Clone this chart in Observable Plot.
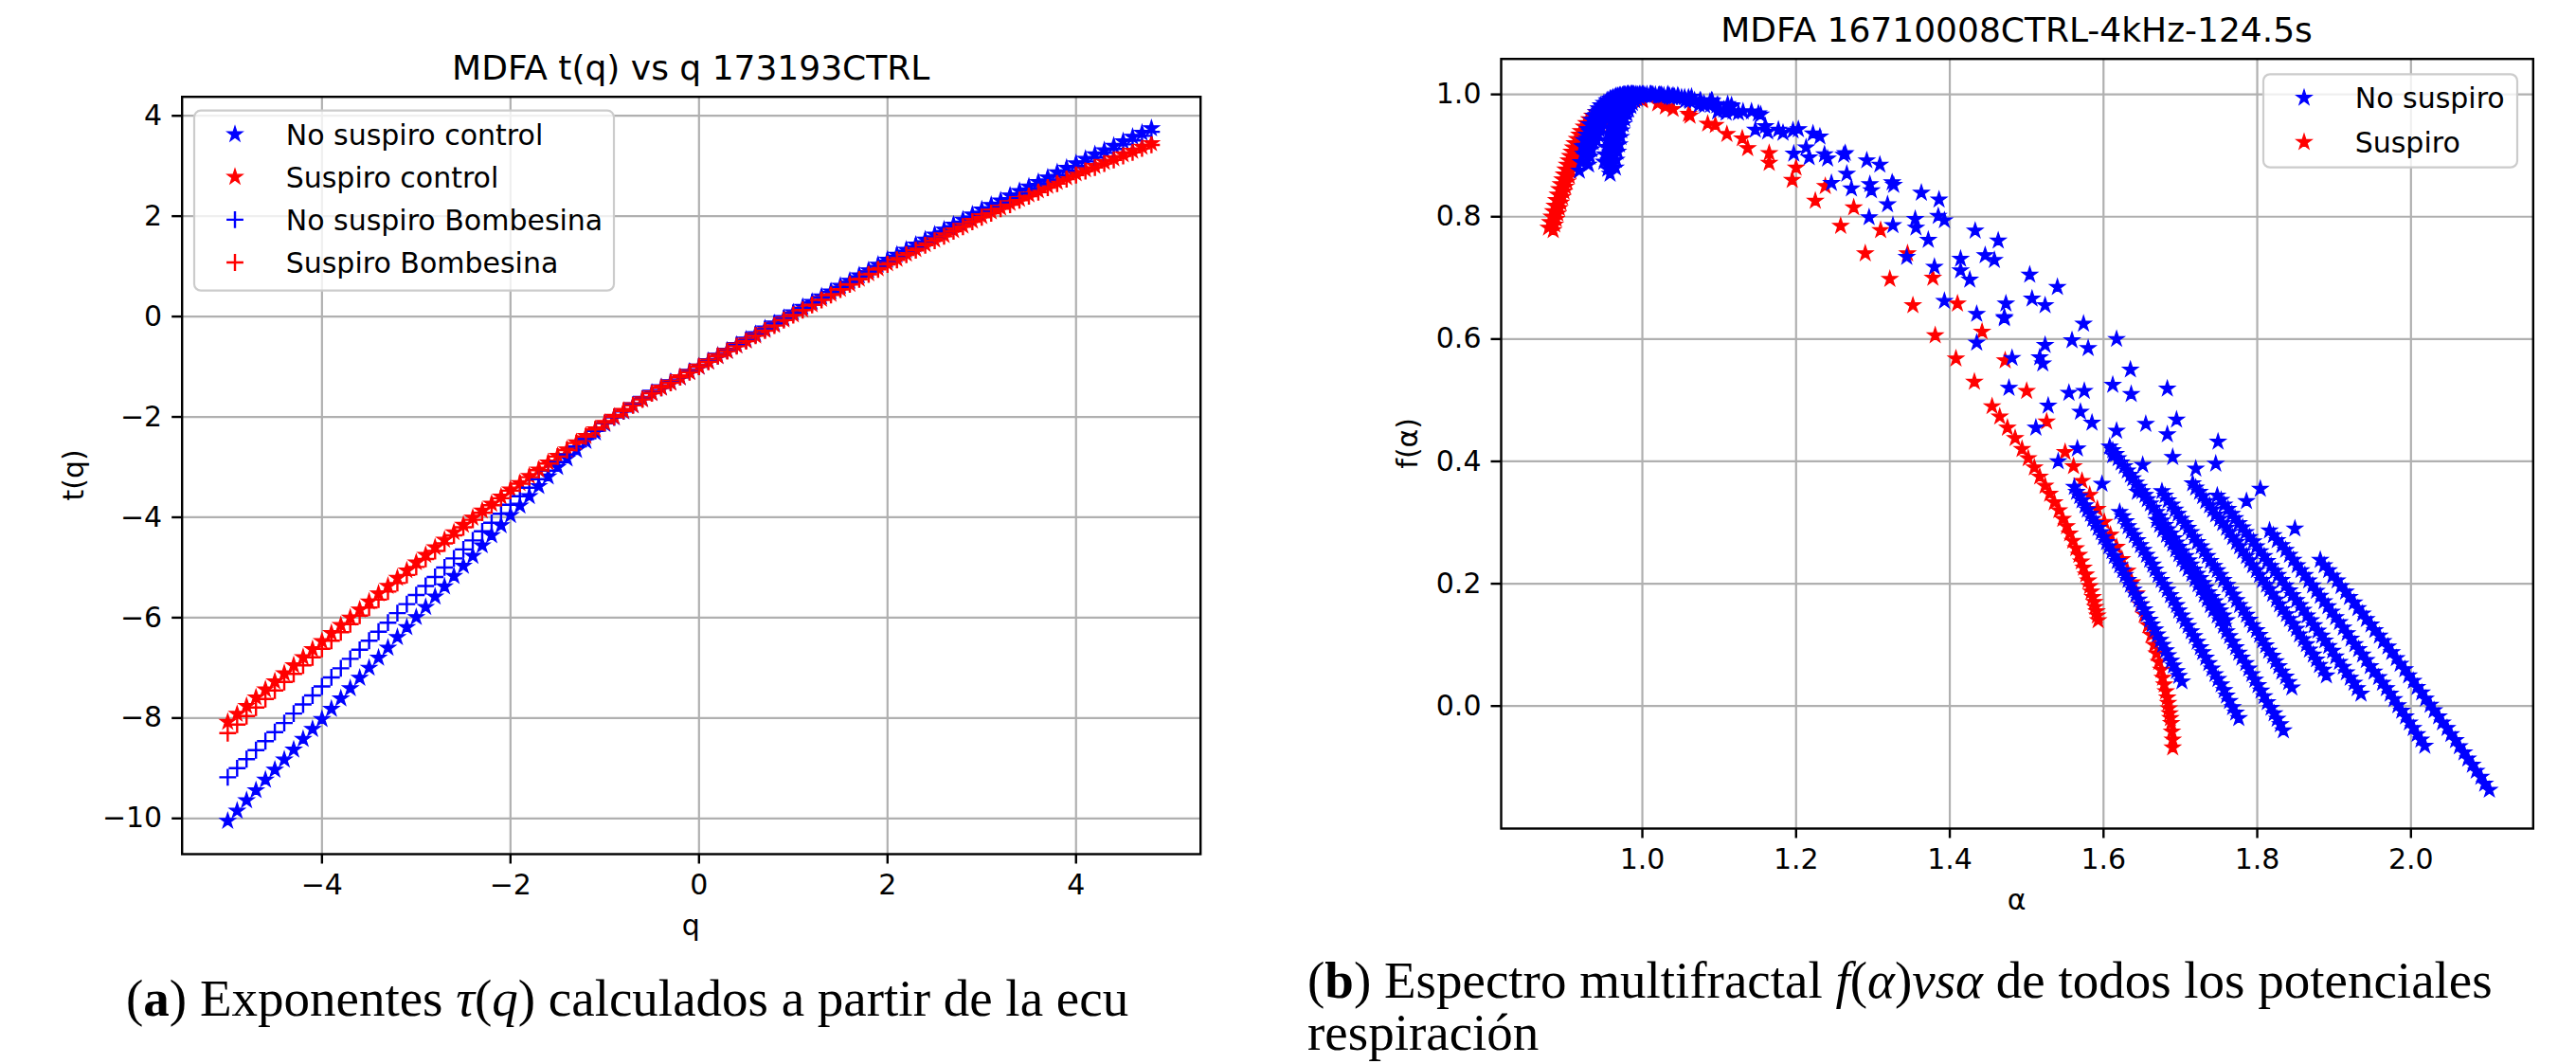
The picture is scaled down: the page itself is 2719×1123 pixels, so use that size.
<!DOCTYPE html>
<html><head><meta charset="utf-8">
<script src="https://cdn.jsdelivr.net/npm/d3@7"></script>
<script src="https://cdn.jsdelivr.net/npm/@observablehq/plot@0.6"></script>
<style>
html,body{margin:0;padding:0;background:#fff;}
#page{position:relative;width:2719px;height:1123px;overflow:hidden;background:#fff;}
#left{position:absolute;left:0;top:0;}
#right{position:absolute;left:1380px;top:0;}
#overlay{position:absolute;left:0;top:0;pointer-events:none;}
</style></head>
<body><div id="page"><div id="left"></div><div id="right"></div><svg id="overlay" width="2719" height="1123"></svg></div>
<script>
// ---------- Panel (a): t(q) vs q ----------
const qValues = [
-5.0,-4.9,-4.8,-4.7,-4.6,-4.5,-4.4,-4.3,-4.2,-4.1,
-4.0,-3.9,-3.8,-3.7,-3.6,-3.5,-3.4,-3.3,-3.2,-3.1,
-3.0,-2.9,-2.8,-2.7,-2.6,-2.5,-2.4,-2.3,-2.2,-2.1,
-2.0,-1.9,-1.8,-1.7,-1.6,-1.5,-1.4,-1.3,-1.2,-1.1,
-1.0,-0.9,-0.8,-0.7,-0.6,-0.5,-0.4,-0.3,-0.2,-0.1,
0.0,0.1,0.2,0.3,0.4,0.5,0.6,0.7,0.8,0.9,
1.0,1.1,1.2,1.3,1.4,1.5,1.6,1.7,1.8,1.9,
2.0,2.1,2.2,2.3,2.4,2.5,2.6,2.7,2.8,2.9,
3.0,3.1,3.2,3.3,3.4,3.5,3.6,3.7,3.8,3.9,
4.0,4.1,4.2,4.3,4.4,4.5,4.6,4.7,4.8];
const tauNoSuspiroControl = [
-10.05,-9.85,-9.64,-9.44,-9.23,-9.03,-8.83,-8.63,-8.42,-8.22,
-8.02,-7.82,-7.61,-7.41,-7.20,-7.00,-6.80,-6.60,-6.39,-6.19,
-5.99,-5.79,-5.58,-5.38,-5.17,-4.97,-4.77,-4.56,-4.36,-4.16,
-3.96,-3.77,-3.58,-3.38,-3.19,-3.00,-2.83,-2.66,-2.48,-2.31,
-2.14,-2.01,-1.89,-1.77,-1.64,-1.52,-1.41,-1.31,-1.21,-1.10,
-1.00,-0.89,-0.78,-0.68,-0.57,-0.46,-0.35,-0.24,-0.14,-0.03,
0.08,0.19,0.29,0.40,0.50,0.61,0.71,0.82,0.92,1.03,
1.13,1.23,1.33,1.43,1.53,1.63,1.73,1.83,1.93,2.03,
2.13,2.22,2.31,2.41,2.50,2.59,2.68,2.77,2.87,2.96,
3.05,3.14,3.23,3.31,3.40,3.49,3.58,3.66,3.75];
const tauSuspiroControl = [
-8.08,-7.92,-7.76,-7.59,-7.43,-7.27,-7.11,-6.95,-6.79,-6.63,
-6.47,-6.31,-6.15,-6.00,-5.84,-5.68,-5.52,-5.37,-5.21,-5.06,
-4.90,-4.75,-4.60,-4.45,-4.30,-4.15,-4.01,-3.87,-3.73,-3.59,
-3.45,-3.32,-3.18,-3.05,-2.91,-2.78,-2.65,-2.51,-2.38,-2.25,
-2.12,-2.00,-1.88,-1.77,-1.65,-1.53,-1.42,-1.32,-1.21,-1.11,
-1.00,-0.90,-0.79,-0.69,-0.58,-0.48,-0.38,-0.27,-0.17,-0.06,
0.04,0.14,0.24,0.35,0.45,0.55,0.65,0.75,0.86,0.96,
1.06,1.15,1.25,1.34,1.44,1.53,1.62,1.72,1.81,1.91,
2.00,2.09,2.17,2.26,2.34,2.43,2.51,2.60,2.68,2.77,
2.85,2.93,3.00,3.08,3.15,3.23,3.30,3.38,3.45];
const tauNoSuspiroBombesina = [
-9.18,-9.00,-8.82,-8.64,-8.46,-8.28,-8.10,-7.91,-7.73,-7.55,
-7.37,-7.19,-7.01,-6.82,-6.64,-6.46,-6.28,-6.10,-5.91,-5.73,
-5.55,-5.37,-5.19,-5.00,-4.82,-4.64,-4.46,-4.28,-4.11,-3.93,
-3.75,-3.58,-3.41,-3.24,-3.07,-2.90,-2.75,-2.59,-2.44,-2.28,
-2.13,-2.01,-1.89,-1.76,-1.64,-1.52,-1.42,-1.31,-1.21,-1.10,
-1.00,-0.89,-0.79,-0.68,-0.57,-0.47,-0.36,-0.25,-0.14,-0.04,
0.07,0.17,0.28,0.38,0.49,0.59,0.69,0.80,0.90,1.01,
1.11,1.21,1.31,1.40,1.50,1.60,1.70,1.80,1.89,1.99,
2.09,2.18,2.27,2.36,2.45,2.55,2.64,2.73,2.82,2.91,
3.00,3.09,3.17,3.26,3.34,3.43,3.51,3.60,3.68];
const tauSuspiroBombesina = [
-8.30,-8.13,-7.96,-7.79,-7.62,-7.45,-7.28,-7.12,-6.95,-6.79,
-6.62,-6.46,-6.29,-6.13,-5.96,-5.80,-5.64,-5.48,-5.31,-5.15,
-4.99,-4.83,-4.67,-4.52,-4.36,-4.20,-4.05,-3.91,-3.76,-3.62,
-3.47,-3.33,-3.20,-3.06,-2.93,-2.79,-2.66,-2.52,-2.39,-2.25,
-2.12,-2.00,-1.88,-1.77,-1.65,-1.53,-1.42,-1.32,-1.21,-1.11,
-1.00,-0.90,-0.79,-0.69,-0.59,-0.49,-0.38,-0.28,-0.18,-0.07,
0.03,0.13,0.23,0.33,0.43,0.54,0.64,0.74,0.84,0.94,
1.04,1.13,1.23,1.32,1.42,1.51,1.60,1.70,1.79,1.89,
1.98,2.06,2.15,2.23,2.32,2.40,2.48,2.57,2.65,2.74,
2.82,2.90,2.97,3.05,3.12,3.20,3.27,3.35,3.42];
const qTicks = [-4,-2,0,2,4];
const tauTicks = [-10,-8,-6,-4,-2,0,2,4];
const leftLegendLabels = ["No suspiro control","Suspiro control","No suspiro Bombesina","Suspiro Bombesina"];

// ---------- Panel (b): f(alpha) vs alpha, one alpha/f array pair per spectrum ----------
const noSuspiro1Alpha = [.930,.932,.934,.936,.938,.940,.943,.946,.949,.952,.955,.958,.962,.966,.970,.974,.978,.982,.987, 1.011,1.035,1.074,
1.021,1.056,1.098,1.147,1.197,1.246,1.295,1.344,1.393,1.435,1.477,1.512,1.541,
1.562,1.565,1.569,1.572,1.576,1.579,1.583,1.586,1.590,1.593,1.597,1.600,1.604,1.607,1.611,1.614,1.618,1.621,1.625,1.628,1.632,1.635,1.639,1.642,1.646,1.649,1.653,1.656,1.660,1.663,1.667,1.670,1.674,1.677,1.681,1.684,1.688,1.691,1.695,1.698,1.702];
const noSuspiro1F = [.885,.898,.910,.922,.933,.943,.953,.961,.969,.976,.982,.987,.991,.994,.996,.998,.999,1.0,1.0, 1.0,.996,.983,
.998,.990,.972,.942,.903,.855,.799,.734,.662,.594,.520,.455,.400,
.358,.350,.343,.336,.328,.321,.314,.306,.299,.291,.284,.276,.268,.261,.253,.245,.237,.230,.222,.214,.206,.198,.190,.182,.174,.166,.158,.150,.141,.133,.125,.117,.108,.100,.091,.083,.074,.066,.057,.049,.040];
const noSuspiro2Alpha = [.918,.920,.923,.925,.928,.931,.934,.937,.940,.944,.948,.952,.956,.960,.965,.970,.975,.980,.985, 1.012,1.039,1.081,
1.023,1.062,1.109,1.163,1.217,1.272,1.326,1.380,1.435,1.481,1.528,1.566,1.598,
1.621,1.625,1.629,1.632,1.636,1.640,1.644,1.648,1.652,1.656,1.660,1.664,1.667,1.671,1.675,1.679,1.683,1.687,1.691,1.695,1.698,1.702,1.706,1.710,1.714,1.718,1.722,1.726,1.729,1.733,1.737,1.741,1.745,1.749,1.753,1.757,1.760,1.764,1.768,1.772,1.776];
const noSuspiro2F = [.875,.889,.903,.916,.928,.939,.949,.958,.966,.973,.980,.985,.990,.993,.996,.998,.999,1.0,1.0, .999,.995,.982,
.998,.989,.970,.939,.897,.846,.786,.718,.641,.569,.491,.421,.363,
.317,.310,.302,.294,.286,.279,.271,.263,.255,.247,.239,.231,.223,.214,.206,.198,.190,.181,.173,.165,.156,.148,.139,.131,.122,.114,.105,.096,.088,.079,.070,.061,.052,.044,.035,.026,.017,.008,-.002,-.011,-.020];
const noSuspiro3Alpha = [.958,.959,.961,.962,.964,.966,.968,.970,.972,.975,.977,.980,.982,.985,.988,.991,.994,.997,1.001, 1.022,1.051,1.097,
1.035,1.076,1.125,1.183,1.241,1.298,1.356,1.414,1.471,1.521,1.570,1.612,1.644,
1.669,1.673,1.677,1.682,1.686,1.690,1.694,1.698,1.702,1.706,1.710,1.715,1.719,1.723,1.727,1.731,1.735,1.739,1.743,1.748,1.752,1.756,1.760,1.764,1.768,1.772,1.776,1.780,1.785,1.789,1.793,1.797,1.801,1.805,1.809,1.813,1.818,1.822,1.826,1.830,1.834];
const noSuspiro3F = [.870,.885,.899,.912,.925,.936,.947,.956,.965,.972,.979,.985,.990,.993,.995,.997,.999,1.0,1.0, .999,.995,.982,
.998,.989,.970,.937,.895,.843,.782,.712,.634,.560,.481,.410,.350,
.304,.296,.288,.280,.272,.265,.256,.248,.240,.232,.224,.216,.207,.199,.191,.182,.174,.165,.157,.148,.140,.131,.122,.114,.105,.096,.087,.079,.070,.061,.052,.043,.034,.025,.016,.006,-.003,-.012,-.021,-.030,-.040];
const noSuspiro4Alpha = [.950,.951,.953,.954,.956,.958,.960,.962,.964,.966,.968,.970,.973,.976,.979,.982,.985,.988,.991, 1.013,1.042,1.089,
1.025,1.068,1.118,1.177,1.237,1.296,1.355,1.414,1.473,1.524,1.575,1.617,1.651,
1.676,1.680,1.684,1.689,1.693,1.697,1.701,1.706,1.710,1.714,1.718,1.722,1.727,1.731,1.735,1.739,1.744,1.748,1.752,1.756,1.761,1.765,1.769,1.773,1.777,1.782,1.786,1.790,1.794,1.799,1.803,1.807,1.811,1.815,1.820,1.824,1.828,1.832,1.837,1.841,1.845];
const noSuspiro4F = [.890,.902,.914,.925,.936,.946,.955,.963,.970,.976,.982,.987,.991,.994,.996,.998,.999,1.0,1.0, .999,.996,.983,
.998,.990,.972,.942,.902,.853,.796,.731,.658,.590,.515,.450,.394,
.351,.344,.336,.329,.321,.314,.306,.299,.291,.284,.276,.268,.261,.253,.245,.237,.229,.222,.214,.206,.198,.190,.182,.173,.165,.157,.149,.141,.132,.124,.116,.107,.099,.090,.082,.073,.065,.056,.048,.039,.030];
const noSuspiro5Alpha = [.965,.966,.968,.970,.972,.973,.975,.977,.980,.982,.985,.987,.990,.993,.996,.999,1.003,1.006,1.010, 1.033,1.064,1.111,
1.046,1.090,1.142,1.203,1.264,1.325,1.385,1.446,1.507,1.559,1.612,1.655,1.690,
1.716,1.720,1.725,1.729,1.733,1.738,1.742,1.746,1.751,1.755,1.760,1.764,1.768,1.773,1.777,1.781,1.786,1.790,1.794,1.799,1.803,1.807,1.812,1.816,1.820,1.825,1.829,1.833,1.838,1.842,1.847,1.851,1.855,1.860,1.864,1.868,1.873,1.877,1.881,1.886,1.890];
const noSuspiro5F = [.880,.893,.906,.918,.930,.941,.951,.960,.968,.975,.981,.986,.990,.993,.996,.998,.999,1.0,1.0, 1.0,.996,.984,
.998,.990,.972,.943,.904,.856,.801,.737,.666,.598,.525,.461,.407,
.364,.357,.350,.343,.335,.328,.321,.313,.306,.299,.291,.284,.276,.268,.261,.253,.245,.238,.230,.222,.214,.206,.198,.191,.183,.174,.166,.158,.150,.142,.134,.126,.117,.109,.101,.092,.084,.076,.067,.059,.050];
const noSuspiro6Alpha = [.925,.927,.930,.932,.934,.936,.939,.942,.945,.948,.952,.956,.960,.964,.968,.972,.977,.982,.987, 1.014,1.047,1.098,
1.028,1.075,1.131,1.196,1.262,1.327,1.393,1.458,1.524,1.580,1.636,1.683,1.720,
1.748,1.753,1.757,1.762,1.767,1.771,1.776,1.781,1.785,1.790,1.795,1.799,1.804,1.809,1.813,1.818,1.823,1.827,1.832,1.837,1.842,1.846,1.851,1.856,1.860,1.865,1.870,1.874,1.879,1.884,1.888,1.893,1.898,1.902,1.907,1.912,1.916,1.921,1.926,1.930,1.935];
const noSuspiro6F = [.900,.911,.922,.932,.942,.951,.959,.966,.973,.979,.984,.988,.992,.995,.997,.998,.999,1.0,1.0, .999,.996,.983,
.998,.990,.972,.941,.901,.852,.794,.729,.655,.585,.510,.444,.388,
.344,.337,.329,.322,.314,.307,.299,.292,.284,.276,.269,.261,.253,.245,.237,.229,.221,.214,.206,.197,.189,.181,.173,.165,.157,.148,.140,.132,.123,.115,.107,.098,.090,.081,.072,.064,.055,.046,.038,.029,.020];
const noSuspiro7Alpha = [.955,.956,.958,.960,.962,.963,.965,.967,.970,.972,.975,.977,.980,.983,.986,.989,.993,.996,1.000, 1.025,1.060,1.116,
1.040,1.091,1.151,1.222,1.292,1.363,1.433,1.504,1.574,1.635,1.695,1.746,1.786,
1.816,1.821,1.826,1.832,1.837,1.842,1.847,1.852,1.857,1.862,1.867,1.872,1.877,1.882,1.887,1.892,1.897,1.902,1.907,1.912,1.917,1.922,1.927,1.932,1.937,1.942,1.947,1.952,1.958,1.963,1.968,1.973,1.978,1.983,1.988,1.993,1.998,2.003,2.008,2.013,2.018];
const noSuspiro7F = [.878,.892,.905,.917,.929,.940,.950,.959,.967,.974,.980,.985,.990,.993,.996,.998,.999,1.0,1.0, .999,.995,.982,
.998,.989,.969,.936,.892,.839,.777,.705,.625,.550,.468,.396,.335,
.287,.279,.271,.263,.255,.247,.239,.230,.222,.214,.205,.197,.188,.180,.171,.163,.154,.145,.137,.128,.119,.110,.101,.093,.084,.075,.065,.056,.047,.038,.029,.020,.011,.001,-.008,-.017,-.027,-.036,-.046,-.055,-.065];
const noSuspiro8Alpha = [.922,.924,.927,.929,.931,.934,.937,.940,.943,.946,.950,.954,.958,.962,.966,.971,.976,.981,.986, 1.017,1.055,1.116,
1.033,1.088,1.154,1.231,1.309,1.386,1.463,1.540,1.617,1.683,1.749,1.804,1.849,
1.882,1.887,1.893,1.898,1.904,1.909,1.915,1.920,1.926,1.931,1.937,1.942,1.948,1.953,1.959,1.964,1.970,1.975,1.981,1.986,1.992,1.997,2.003,2.008,2.014,2.019,2.025,2.030,2.036,2.041,2.047,2.052,2.058,2.063,2.069,2.074,2.080,2.085,2.091,2.096,2.102];
const noSuspiro8F = [.915,.925,.934,.943,.951,.958,.965,.971,.977,.982,.986,.990,.993,.995,.997,.998,.999,1.0,1.0, .999,.995,.980,
.998,.988,.967,.931,.885,.828,.761,.685,.600,.519,.432,.355,.290,
.239,.230,.222,.213,.205,.196,.187,.178,.169,.160,.151,.142,.133,.124,.115,.106,.097,.088,.078,.069,.060,.050,.041,.031,.022,.012,.002,-.007,-.017,-.027,-.036,-.046,-.056,-.066,-.076,-.086,-.096,-.106,-.116,-.127,-.137];
const noSuspiro9Alpha = [.940,.942,.944,.945,.947,.949,.951,.953,.956,.959,.962,.965,.968,.971,.974,.977,.981,.985,.989, 1.011,1.038,1.080,
1.023,1.061,1.106,1.160,1.213,1.266,1.319,1.372,1.426,1.471,1.517,1.555,1.585,
1.608,1.612,1.616,1.619,1.623,1.627,1.631,1.635,1.638,1.642,1.646,1.650,1.654,1.657,1.661,1.665,1.669,1.673,1.676,1.680,1.684,1.688,1.692,1.695,1.699,1.703,1.707,1.711,1.714,1.718,1.722,1.726,1.730,1.733,1.737,1.741,1.745,1.749,1.752,1.756,1.760];
const noSuspiro9F = [.925,.934,.942,.950,.957,.963,.969,.975,.980,.984,.988,.991,.994,.996,.997,.998,.999,1.0,1.0, 1.0,.996,.985,
.998,.991,.975,.948,.913,.870,.820,.762,.697,.636,.570,.512,.463,
.424,.418,.412,.405,.398,.392,.385,.378,.372,.365,.358,.351,.345,.338,.331,.324,.317,.310,.303,.296,.289,.282,.274,.267,.260,.253,.245,.238,.231,.223,.216,.209,.201,.194,.186,.178,.171,.163,.156,.148,.140];
const suspiro1Alpha = [.878,.880,.882,.884,.886,.888,.890,.892,.894,.896,.898,.900,.902,.904,.906,.908,.910,.912,.915,.918,.920,.924,.927,.931,.935,.940,.945,.951,.957,.963,.970,.977,.985,
1.000,1.020,1.040,1.062,1.085,1.110,1.137,1.165,1.195,1.225,1.258,1.290,1.322,1.352,1.381,1.408,1.432,1.455,1.465,1.475,1.485,1.494,1.502,1.510,1.517,1.524,1.530,1.536,1.542,1.547,1.552,1.556,1.560,1.564,1.568,1.571,1.574,1.577,1.580,1.582,1.584,1.586,1.588,1.589,1.591,1.592,1.593];
const suspiro1F = [.782,.791,.800,.809,.818,.827,.836,.845,.853,.861,.869,.877,.885,.892,.899,.906,.913,.920,.927,.934,.940,.947,.953,.959,.965,.971,.976,.981,.985,.989,.992,.995,.997,
.992,.985,.976,.965,.952,.935,.912,.888,.860,.826,.785,.740,.698,.655,.606,.568,.530,.490,.473,.455,.438,.420,.405,.390,.375,.360,.347,.333,.320,.306,.294,.282,.270,.258,.247,.236,.226,.215,.205,.196,.187,.178,.170,.162,.155,.148,.140];
const suspiro2Alpha = [.884,.886,.888,.890,.892,.894,.896,.898,.900,.902,.905,.907,.910,.912,.915,.918,.921,.924,.928,.932,.936,.940,.945,.950,.955,.960,.966,.972,.978,.984,.990,
1.000,1.030,1.060,1.095,1.130,1.165,1.200,1.238,1.275,1.310,1.345,1.378,1.410,1.442,1.472,1.500,1.526,1.550,1.561,1.572,1.582,1.592,1.601,1.609,1.617,1.624,1.631,1.637,1.643,1.648,1.653,1.658,1.662,1.666,1.669,1.672,1.675,1.677,1.679,1.681,1.683,1.684,1.685,1.686,1.687,1.688,1.689,1.690,1.690];
const suspiro2F = [.778,.787,.796,.805,.814,.823,.832,.841,.849,.857,.866,.874,.882,.889,.897,.904,.911,.918,.925,.932,.939,.945,.952,.958,.965,.971,.977,.982,.987,.991,.994,
.990,.980,.968,.950,.928,.904,.880,.850,.815,.778,.740,.700,.658,.612,.565,.515,.465,.415,.392,.368,.345,.322,.301,.280,.260,.240,.221,.202,.184,.166,.149,.132,.116,.100,.086,.072,.059,.046,.035,.024,.014,.005,-.004,-.012,-.020,-.028,-.042,-.055,-.068];
const alphaTicks = [1.0,1.2,1.4,1.6,1.8,2.0];
const fTicks = [0.0,0.2,0.4,0.6,0.8,1.0];
const rightLegendLabels = ["No suspiro","Suspiro"];

// ---------- build tables ----------
const leftSeries = [tauNoSuspiroControl, tauSuspiroControl, tauNoSuspiroBombesina, tauSuspiroBombesina]
  .map((tau, k) => qValues.map((q, i) => ({q, t: tau[i], series: leftLegendLabels[k]})));
function zip(pairs, name) {
  const out = [];
  pairs.forEach(([a, f]) => { const n = Math.min(a.length, f.length); for (let i = 0; i < n; i++) out.push({a: a[i], f: f[i], series: name}); });
  return out;
}
const noSuspiroPts = zip([[noSuspiro1Alpha,noSuspiro1F],[noSuspiro2Alpha,noSuspiro2F],[noSuspiro3Alpha,noSuspiro3F],[noSuspiro4Alpha,noSuspiro4F],[noSuspiro5Alpha,noSuspiro5F],[noSuspiro6Alpha,noSuspiro6F],[noSuspiro7Alpha,noSuspiro7F],[noSuspiro8Alpha,noSuspiro8F],[noSuspiro9Alpha,noSuspiro9F]], rightLegendLabels[0]);
const suspiroPts = zip([[suspiro1Alpha,suspiro1F],[suspiro2Alpha,suspiro2F]], rightLegendLabels[1]);

const BLUE = "#0000ff", RED = "#ff0000";
const STAR_R = 5.1, PLUS_R = 5.8;
const minus = d => d < 0 ? "\u2212" + Math.abs(d) : String(d);
const gridStyle = {stroke: "#b0b0b0", strokeOpacity: 1, strokeWidth: 2.2};
const axisStyle = {tickSize: 10.5, tickPadding: 10.5, fontSize: 30, label: null, strokeWidth: 2.4};

const leftPlot = Plot.plot({
  width: 1300, height: 1000,
  marginLeft: 191.7, marginRight: 33.3, marginTop: 101.7, marginBottom: 99,
  style: {fontFamily: "DejaVu Sans", fontSize: "30px", color: "black", background: "transparent", overflow: "visible"},
  x: {domain: [-5.484, 5.321]},
  y: {domain: [-10.712, 4.378]},
  marks: [
    Plot.gridX({ticks: qTicks, ...gridStyle}),
    Plot.gridY({ticks: tauTicks, ...gridStyle}),
    Plot.dot(leftSeries[0], {x: "q", y: "t", symbol: "star", r: STAR_R, fill: BLUE, stroke: BLUE, strokeWidth: 1.2}),
    Plot.dot(leftSeries[1], {x: "q", y: "t", symbol: "star", r: STAR_R, fill: RED, stroke: RED, strokeWidth: 1.2}),
    Plot.dot(leftSeries[2], {x: "q", y: "t", symbol: "plus", r: PLUS_R, fill: "none", stroke: BLUE, strokeWidth: 2.4}),
    Plot.dot(leftSeries[3], {x: "q", y: "t", symbol: "plus", r: PLUS_R, fill: "none", stroke: RED, strokeWidth: 2.4}),
    Plot.frame({stroke: "black", strokeWidth: 2.4}),
    Plot.axisX({ticks: qTicks, tickFormat: minus, ...axisStyle}),
    Plot.axisY({ticks: tauTicks, tickFormat: minus, ...axisStyle})
  ]
});
document.getElementById("left").appendChild(leftPlot);

const rightPlot = Plot.plot({
  width: 1339, height: 960,
  marginLeft: 204, marginRight: 45.7, marginTop: 61.7, marginBottom: 86,
  style: {fontFamily: "DejaVu Sans", fontSize: "30px", color: "black", background: "transparent", overflow: "visible"},
  x: {domain: [0.8163, 2.159]},
  y: {domain: [-0.2003, 1.058]},
  marks: [
    Plot.gridX({ticks: alphaTicks, ...gridStyle}),
    Plot.gridY({ticks: fTicks, ...gridStyle}),
    Plot.dot(suspiroPts, {x: "a", y: "f", symbol: "star", r: STAR_R, fill: RED, stroke: RED, strokeWidth: 1.2}),
    Plot.dot(noSuspiroPts, {x: "a", y: "f", symbol: "star", r: STAR_R, fill: BLUE, stroke: BLUE, strokeWidth: 1.2}),
    Plot.frame({stroke: "black", strokeWidth: 2.4}),
    Plot.axisX({ticks: alphaTicks, tickFormat: d3.format(".1f"), ...axisStyle}),
    Plot.axisY({ticks: fTicks, tickFormat: d3.format(".1f"), ...axisStyle})
  ]
});
document.getElementById("right").appendChild(rightPlot);

// ---------- titles, axis labels, legends, captions ----------
const ov = d3.select("#overlay");
function label(x, y, str, opts = {}) {
  const t = ov.append("text").attr("x", x).attr("y", y)
    .attr("font-family", opts.family || "DejaVu Sans")
    .attr("font-size", opts.size || 30)
    .attr("text-anchor", opts.anchor || "middle")
    .attr("fill", opts.fill || "black")
    .style("white-space", "pre")
    .text(str);
  if (opts.rotate) t.attr("transform", `rotate(-90 ${x} ${y})`);
  return t;
}
label(729.2, 84, "MDFA t(q) vs q 173193CTRL", {size: 36});
label(2128.6, 44, "MDFA 16710008CTRL-4kHz-124.5s", {size: 36});
label(729.2, 987, "q");
label(88, 501.3, "t(q)", {rotate: true});
label(2128.6, 960, "\u03b1");
label(1496, 467.8, "f(\u03b1)", {rotate: true});

function legend(x, y, w, h, rows) {
  ov.append("rect").attr("x", x).attr("y", y).attr("width", w).attr("height", h)
    .attr("rx", 7).attr("fill", "white").attr("fill-opacity", 0.8)
    .attr("stroke", "#cccccc").attr("stroke-width", 2.2);
  rows.forEach((r, i) => {
    const cy = y + 25 + i * r.step;
    const isStar = r.symbol === "star";
    const path = d3.symbol(isStar ? d3.symbolStar : d3.symbolPlus, Math.PI * (isStar ? STAR_R : PLUS_R) ** 2)();
    ov.append("path").attr("d", path).attr("transform", `translate(${x + 43},${cy})`)
      .attr("fill", isStar ? r.color : "none").attr("stroke", r.color)
      .attr("stroke-width", isStar ? 1.2 : 2.4);
    label(x + 96.7, cy + 11, r.label, {anchor: "start"});
  });
}
legend(205, 116.7, 443, 190, [
  {label: leftLegendLabels[0], symbol: "star", color: BLUE, step: 45.1},
  {label: leftLegendLabels[1], symbol: "star", color: RED, step: 45.1},
  {label: leftLegendLabels[2], symbol: "plus", color: BLUE, step: 45.1},
  {label: leftLegendLabels[3], symbol: "plus", color: RED, step: 45.1}
]);
legend(2389, 78.3, 268, 98.4, [
  {label: rightLegendLabels[0], symbol: "star", color: BLUE, step: 46.7},
  {label: rightLegendLabels[1], symbol: "star", color: RED, step: 46.7}
]);

function caption(x, y, parts) {
  const t = ov.append("text").attr("x", x).attr("y", y)
    .attr("font-family", "Liberation Serif").attr("font-size", 55)
    .attr("fill", "black").style("white-space", "pre");
  parts.forEach(p => {
    const s = t.append("tspan").text(p.t);
    if (p.b) s.attr("font-weight", "bold");
    if (p.i) s.attr("font-style", "italic");
  });
  return t;
}
caption(133, 1072, [{t: "("}, {t: "a", b: true}, {t: ") Exponentes "}, {t: "\u03c4", i: true}, {t: "("}, {t: "q", i: true}, {t: ") calculados a partir de la ecu"}]);
caption(1380, 1053, [{t: "("}, {t: "b", b: true}, {t: ") Espectro multifractal "}, {t: "f", i: true}, {t: "("}, {t: "\u03b1", i: true}, {t: ")"}, {t: "vs\u03b1", i: true}, {t: " de todos los potenciales"}]);
caption(1380, 1108, [{t: "respiraci\u00f3n"}]);
</script>
</body></html>
